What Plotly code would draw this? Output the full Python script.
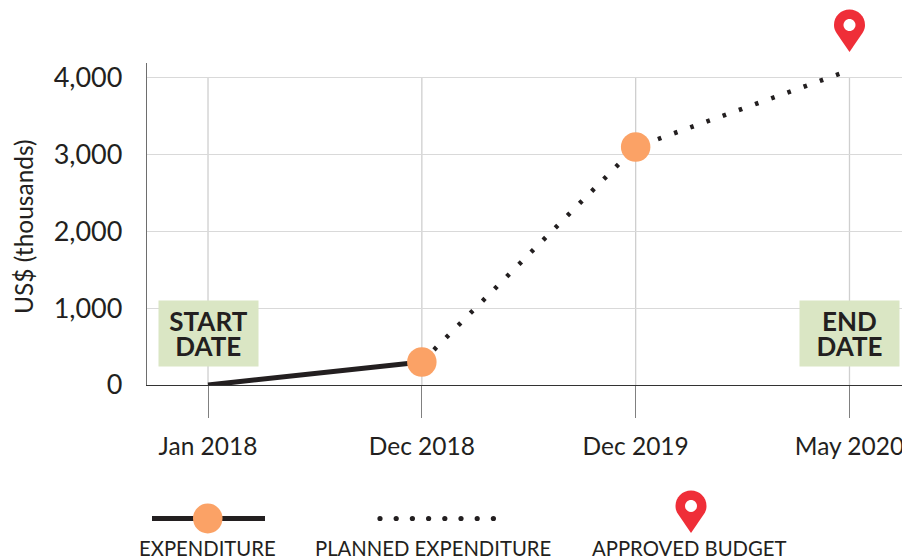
import plotly.graph_objects as go

categories = ["Jan 2018", "Dec 2018", "Dec 2019", "May 2020"]
y_ticks = [0, 1000, 2000, 3000, 4000]
expenditure = [0, 300]
planned = [300, 3100, 4100]
milestones = [300, 3100]
approved_budget_x = "May 2020"

# page has an 8px body margin, so the figure fills the rest of the window
OFF = 8
W, H = 910 - OFF, 560 - OFF
L, T, B = 147 - OFF, 63 - OFF, 175
PW, PH = W - L, H - T - B
INK = "#231F20"
ORANGE = "#FBA266"
RED = "#EF2E38"
GREEN = "#DAE6C4"
GRID = "#D9D9D9"
FONT = "Lato"

idx = {c: i for i, c in enumerate(categories)}
px_per_cat = 213.8


def px(x):
    return (x - OFF - L) / PW


def py(y):
    return (H - B - (y - OFF)) / PH


PIN = ("M 0 0 L -13 19 C -15 22 -15.5 24.5 -15.5 27 C -15.5 36 -8.5 42.5 0 42.5 "
       "C 8.5 42.5 15.5 36 15.5 27 C 15.5 24.5 15 22 13 19 Z")
HOLE = ("M -6 27 C -6 30.3 -3.3 33 0 33 C 3.3 33 6 30.3 6 27 "
        "C 6 23.7 3.3 21 0 21 C -3.3 21 -6 23.7 -6 27 Z")


def pin(xref, xa, ya):
    s = []
    for path, col in ((PIN, RED), (HOLE, "white")):
        s.append(dict(type="path", path=path, xref=xref, yref="paper",
                      xsizemode="pixel", ysizemode="pixel", xanchor=xa, yanchor=ya,
                      fillcolor=col, line=dict(width=0), layer="above"))
    return s


shapes = []
for c in categories:
    shapes.append(dict(type="line", xref="x", yref="y", x0=idx[c], x1=idx[c],
                       y0=0, y1=y_ticks[-1], line=dict(color="#CFCFCF", width=1.3), layer="below"))
shapes += pin("x", idx[approved_budget_x], py(52))

# legend artwork
shapes.append(dict(type="line", xref="paper", yref="paper", x0=px(152), x1=px(265),
                   y0=py(518.5), y1=py(518.5), line=dict(color=INK, width=5)))
shapes.append(dict(type="circle", xref="paper", yref="paper", x0=px(193), x1=px(222.5),
                   y0=py(503.5), y1=py(533.5), fillcolor=ORANGE, line=dict(width=0)))
for k in range(8):
    cx = 380 + k * 16.2
    shapes.append(dict(type="circle", xref="paper", yref="paper", x0=px(cx - 2.6), x1=px(cx + 2.6),
                       y0=py(518.5 - 2.6), y1=py(518.5 + 2.6), fillcolor=INK, line=dict(width=0)))
shapes += pin("paper", px(691), py(533))

fig = go.Figure()
fig.add_trace(go.Scatter(x=[1, 2, 3], y=planned, mode="lines",
                         line=dict(color=INK, width=4.6, dash="3.6px,13.6px"),
                         hoverinfo="skip", showlegend=False, cliponaxis=False))
fig.add_trace(go.Scatter(x=[0, 1], y=expenditure, mode="lines",
                         line=dict(color=INK, width=5),
                         hoverinfo="skip", showlegend=False, cliponaxis=False))
fig.add_trace(go.Scatter(x=[1, 2], y=milestones, mode="markers",
                         marker=dict(color=ORANGE, size=29.5, line=dict(width=0)),
                         hoverinfo="skip", showlegend=False, cliponaxis=False))

annotations = []
span = '<span style="font-size:26px"><b>{}</b></span>'
for l1, l2, cat in (("START", "DATE", "Jan 2018"), ("END", "DATE", "May 2020")):
    annotations.append(dict(text=span.format(l1) + "<br>" + span.format(l2),
                            x=idx[cat], y=671, xref="x", yref="y",
                            showarrow=False, bgcolor=GREEN, width=99, height=65, borderpad=0,
                            align="center", valign="middle",
                            font=dict(family=FONT, size=19.3, color=INK)))
for txt, cx in (("EXPENDITURE", 207), ("PLANNED EXPENDITURE", 433), ("APPROVED BUDGET", 689)):
    annotations.append(dict(text=txt, x=px(cx), y=py(548), xref="paper", yref="paper",
                            showarrow=False, font=dict(family=FONT, size=20.3, color=INK),
                            xanchor="center", yanchor="middle"))
annotations.append(dict(text="US$ (thousands)", x=px(23), y=py(227), xref="paper", yref="paper",
                        showarrow=False, textangle=-90, font=dict(family=FONT, size=24.5, color=INK),
                        xanchor="center", yanchor="middle"))

fig.update_layout(
    width=W, height=H, margin=dict(l=L, r=0, t=T, b=B, pad=0, autoexpand=False),
    paper_bgcolor="white", plot_bgcolor="white", showlegend=False,
    font=dict(family=FONT, color=INK),
    shapes=shapes, annotations=annotations,
    xaxis=dict(range=[-61 / px_per_cat, 3 + 60.5 / px_per_cat], tickmode="array",
               tickvals=[idx[c] for c in categories], ticktext=categories,
               showgrid=False, zeroline=False, showline=True, linecolor="#333333", linewidth=1.3,
               ticks="outside", ticklen=32, tickwidth=1.3, tickcolor="#808080", ticklabelstandoff=7,
               tickfont=dict(family=FONT, size=24.5, color=INK)),
    yaxis=dict(range=[0, 4195], tickmode="array", tickvals=y_ticks,
               ticktext=[f"{v:,}" for v in y_ticks],
               showgrid=True, gridcolor=GRID, gridwidth=1.3, zeroline=False,
               showline=True, linecolor="#6E6E6E", linewidth=1.3, ticklabelstandoff=18,
               ticks="", tickfont=dict(family=FONT, size=27, color=INK)),
)
fig.write_html("out.html", default_width=f"{W}px", default_height=f"{H}px")
